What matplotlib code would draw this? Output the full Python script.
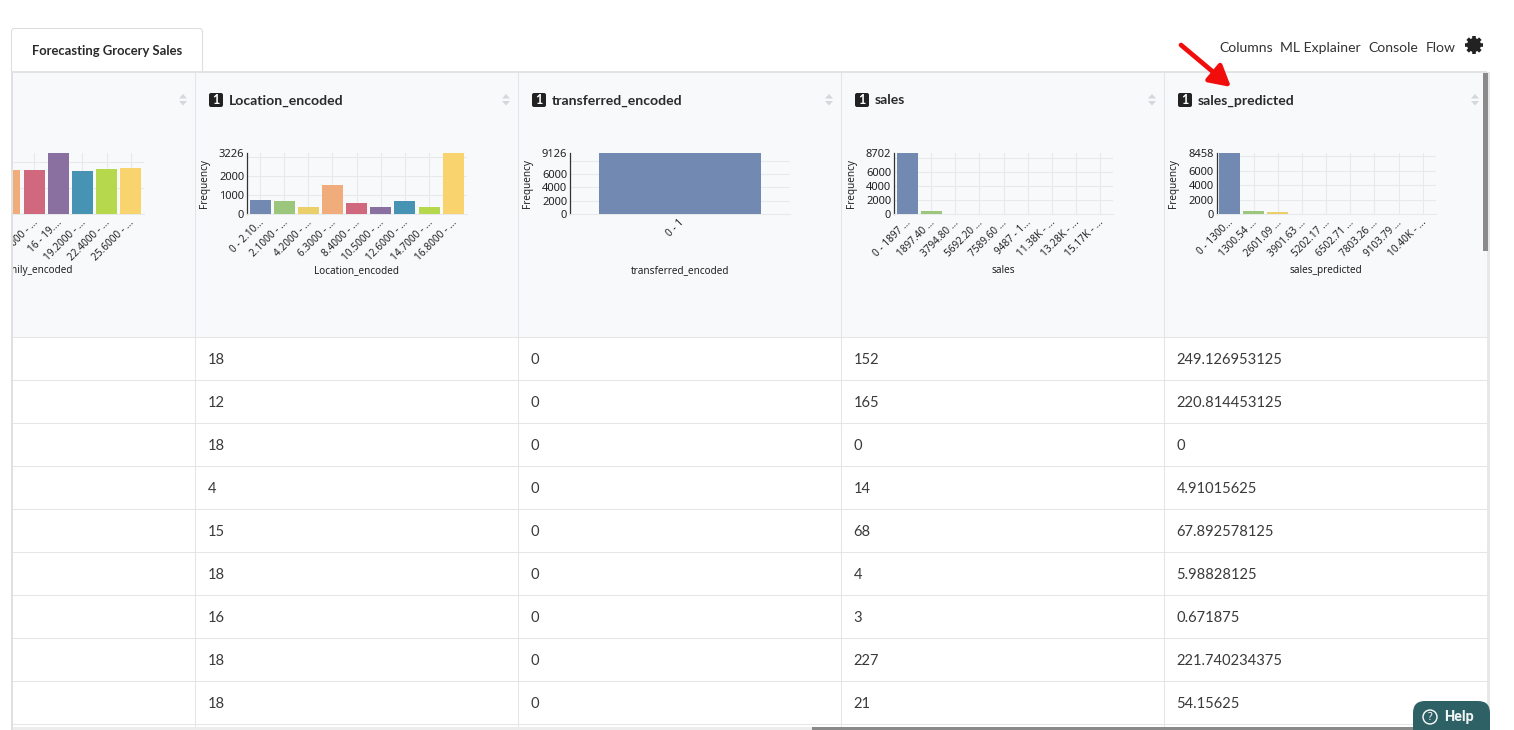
import matplotlib
matplotlib.use("Agg")
import matplotlib.pyplot as plt
import numpy as np
from matplotlib.patches import Rectangle, FancyBboxPatch, Circle, Polygon
from matplotlib.transforms import Affine2D

# palette of the histogram bars
bar_colors = ["#7289B1", "#9BC67C", "#EBCF69", "#F0AC7A", "#D1697E", "#8A70A0", "#4793B3", "#B5D84C", "#F9D36E"]

# histograms
family_labels = ["9.6000 - ...", "12.8000 - ...", "16 - 19....", "19.2000 - ...", "22.4000 - ...", "25.6000 - ..."]
family_values = [836, 836, 1163, 820, 850, 870]

location_labels = ["0 - 2.10...", "2.1000 - ...", "4.2000 - ...", "6.3000 - ...", "8.4000 - ...",
                   "10.5000 - ...", "12.6000 - ...", "14.7000 - ...", "16.8000 - ..."]
location_values = [724, 692, 378, 1510, 586, 378, 700, 378, 3226]

transferred_labels = ["0 - 1"]
transferred_values = [9126]

sales_labels = ["0 - 1897 ...", "1897.40 ...", "3794.80 ...", "5692.20 ...", "7589.60 ...",
                "9487 - 1...", "11.38K - ...", "13.28K - ...", "15.17K - ..."]
sales_values = [8702, 420, 0, 0, 0, 0, 0, 0, 0]

predicted_labels = ["0 - 1300...", "1300.54 ...", "2601.09 ...", "3901.63 ...", "5202.17 ...",
                    "6502.71 ...", "7803.26 ...", "9103.79 ...", "10.40K - ..."]
predicted_values = [8458, 480, 300, 0, 0, 0, 0, 0, 0]

# table rows
location_col = ["18", "12", "18", "4", "15", "18", "16", "18", "18"]
transferred_col = ["0", "0", "0", "0", "0", "0", "0", "0", "0"]
sales_col = ["152", "165", "0", "14", "68", "4", "3", "227", "21"]
predicted_col = ["249.126953125", "220.814453125", "0", "4.91015625", "67.892578125",
                 "5.98828125", "0.671875", "221.740234375", "54.15625"]

headers = ["Location_encoded", "transferred_encoded", "sales", "sales_predicted"]
nav_items = ["Columns", "ML Explainer", "Console", "Flow"]
nav_x = [1219.5, 1280.5, 1368.5, 1425.5]

W, H = 1514, 730
GRID = "#E8E9EB"
CHART_TOP, CHART_BOTTOM = 153, 214
BAND = 24.15

fig = plt.figure(figsize=(W / 100, H / 100), dpi=100, facecolor="white")


def pixel_axes(z):
    ax = fig.add_axes([0, 0, 1, 1], zorder=z)
    ax.set_xlim(0, W)
    ax.set_ylim(H, 0)
    ax.axis("off")
    ax.patch.set_alpha(0)
    return ax


def histogram(left, right, labels, values, yticks, gridticks, ymax, xlabel, width=0.87, offset=0, band=BAND, start=-0.54):
    ax = fig.add_axes([left / W, (H - CHART_BOTTOM) / H, (right - left) / W, (CHART_BOTTOM - CHART_TOP) / H], zorder=1)
    ax.patch.set_alpha(0)
    pos = np.arange(len(values)) + offset
    colors = bar_colors[offset:offset + len(values)]
    ax.bar(pos, values, width=width, color=colors, edgecolor="none", zorder=3)
    ax.set_xlim(start, start + (right - left) / band)
    ax.set_ylim(0, ymax)

    ax.set_xticks(pos)
    ax.set_xticklabels(labels, rotation=45, ha="right", va="center", rotation_mode="anchor",
                       fontsize=7.2, family="Noto Sans", color="#222222")
    ax.set_yticks(yticks)
    ax.set_yticklabels([str(t) for t in yticks], fontsize=8, family="Noto Sans", color="#222222")
    ax.yaxis.remove_overlapping_locs = False
    ax.set_yticks(gridticks, minor=True)
    ax.tick_params(axis="both", which="both", length=0)
    ax.tick_params(axis="y", pad=2)
    ax.tick_params(axis="x", pad=5)
    ax.grid(True, which="minor", axis="y", color=GRID, linewidth=0.8, zorder=0)
    ax.grid(True, which="major", axis="x", color=GRID, linewidth=0.8, zorder=0)

    # tick labels sit a little to the right of the tick
    for lab in ax.get_xticklabels():
        lab.set_transform(lab.get_transform() + Affine2D().translate(2, 0))

    for s in ["top", "right"]:
        ax.spines[s].set_visible(False)
    ax.spines["bottom"].set_color(GRID)
    ax.spines["left"].set_color("#333333")
    ax.spines["left"].set_linewidth(0.9)

    ax.set_xlabel(xlabel, fontsize=7.2, family="Noto Sans", color="#222222")
    ax.xaxis.set_label_coords(0.5, -0.83)
    ax.set_ylabel("Frequency", fontsize=7.2, family="Noto Sans", color="#222222")
    ax.yaxis.set_label_coords(-37 / (right - left), 0.5)
    return ax


# page background, tab, header band and table rules
bg = pixel_axes(0)
bg.add_patch(FancyBboxPatch((14, 31), 186, 60, boxstyle="round,pad=2.5,rounding_size=3",
                            facecolor="white", edgecolor="#DDDEE0", linewidth=0.8))
bg.add_patch(Rectangle((12, 73), 1475, H - 73, facecolor="white", edgecolor="none"))
bg.add_patch(Rectangle((12, 73), 1475, 264, facecolor="#F8F9FB", edgecolor="none"))
for y in [337, 380, 423, 466, 509, 552, 595, 638, 681, 724]:
    bg.plot([13, 1487], [y, y], color="#E6E6E6", lw=0.75)
for x in [195, 518, 841, 1164]:
    bg.plot([x, x], [73, 730], color="#E4E5E8", lw=0.75)

row_y = [364, 407, 450, 493, 536, 579, 622, 665, 708]
for col, x in zip([location_col, transferred_col, sales_col, predicted_col], [207.5, 530.5, 853.5, 1176.5]):
    for txt, y in zip(col, row_y):
        bg.text(x, y, txt, family="Lato", fontsize=10.6, color="#3A3A3A", va="baseline")

# column headers with type badge and sort arrows
for name, x in zip(headers, [209, 532, 855, 1178]):
    bg.add_patch(FancyBboxPatch((x + 1.5, 94.5), 11, 11, boxstyle="round,pad=1.5,rounding_size=2",
                                facecolor="#222222", edgecolor="none"))
    bg.text(x + 7, 100, "1", family="Lato", weight="bold", fontsize=9, color="white", ha="center", va="center")
    bg.text(x + 20, 104.5, name, family="Lato", weight="bold", fontsize=10.1, color="#2A2A2A", va="baseline")
for x in [183, 506, 829, 1152, 1475]:
    bg.add_patch(Polygon([(x - 4, 98.5), (x + 4, 98.5), (x, 94)], facecolor="#D5D7DA", edgecolor="none"))
    bg.add_patch(Polygon([(x - 4, 101), (x + 4, 101), (x, 105.5)], facecolor="#D5D7DA", edgecolor="none"))

# histograms
histogram(-75.5, 144, family_labels, family_values, [500, 1000], [500, 1000], 1163, "Family_encoded", offset=3)
histogram(247, 467, location_labels, location_values, [0, 1000, 2000, 3226], [1000, 2000, 3000], 3226, "Location_encoded")
histogram(570, 790, transferred_labels, transferred_values, [0, 2000, 4000, 6000, 9126],
          [2000, 4000, 6000, 8000], 9126, "transferred_encoded", width=0.74, band=220, start=-0.5)
histogram(894, 1113, sales_labels, sales_values, [0, 2000, 4000, 6000, 8702],
          [2000, 4000, 6000, 8000], 8702, "sales")
histogram(1216.5, 1436, predicted_labels, predicted_values, [0, 2000, 4000, 6000, 8458],
          [2000, 4000, 6000, 8000], 8458, "sales_predicted")

# everything on top: mask for the clipped column, nav, scrollbars, arrow, help
top = pixel_axes(2)
top.add_patch(Rectangle((0, 72), 11, H - 72, facecolor="white", edgecolor="none"))
top.add_patch(Rectangle((11, 72), 1.7, H - 72, facecolor="#DFE0E2", edgecolor="none"))
top.add_patch(Rectangle((11, 71), 1476, 1.7, facecolor="#E2E3E5", edgecolor="none"))
top.add_patch(Rectangle((1487, 72), 3, H - 72, facecolor="#E8E8E8", edgecolor="none"))
top.text(107, 55, "Forecasting Grocery Sales", family="Lato", weight="bold", fontsize=9.4,
         color="#2A2A2A", ha="center", va="baseline")

for item, x in zip(nav_items, nav_x):
    top.text(x, 52.5, item, family="Lato", fontsize=10.1, color="#333333", va="baseline")

# gear icon
for a in np.deg2rad([0, 45, 90, 135]):
    top.plot([1474 - 9 * np.cos(a), 1474 + 9 * np.cos(a)], [45 - 9 * np.sin(a), 45 + 9 * np.sin(a)],
             color="#222222", lw=2.6, solid_capstyle="butt")
top.add_patch(Circle((1474, 45), 7, facecolor="#222222", edgecolor="none"))
top.add_patch(Circle((1474, 45), 3.5, facecolor="white", edgecolor="none"))

top.add_patch(Rectangle((1483, 73), 5, 178, facecolor="#8A8A8A", edgecolor="none"))
top.add_patch(Rectangle((13, 727), 1477, 3, facecolor="#EDEDED", edgecolor="none"))
top.add_patch(Rectangle((812, 727), 678, 3, facecolor="#8A8A8A", edgecolor="none"))

top.annotate("", xy=(1231, 87), xytext=(1181, 45),
             arrowprops=dict(arrowstyle="-|>,head_length=0.9,head_width=0.5", color="#F20D0D", lw=3.4,
                             mutation_scale=14, shrinkA=0, shrinkB=0))

top.add_patch(FancyBboxPatch((1425, 713), 53, 22, boxstyle="round,pad=12,rounding_size=12",
                             facecolor="#2E6166", edgecolor="none"))
top.add_patch(Circle((1430, 717), 7, facecolor="none", edgecolor="white", lw=1))
top.text(1430, 717, "?", family="Noto Sans", fontsize=7.5, color="white", ha="center", va="center")
top.text(1444, 717, "Help", family="Roboto", weight="bold", fontsize=10.4, color="#F2F5F5", va="center")

fig.savefig("out.png", dpi=100, facecolor="white")
